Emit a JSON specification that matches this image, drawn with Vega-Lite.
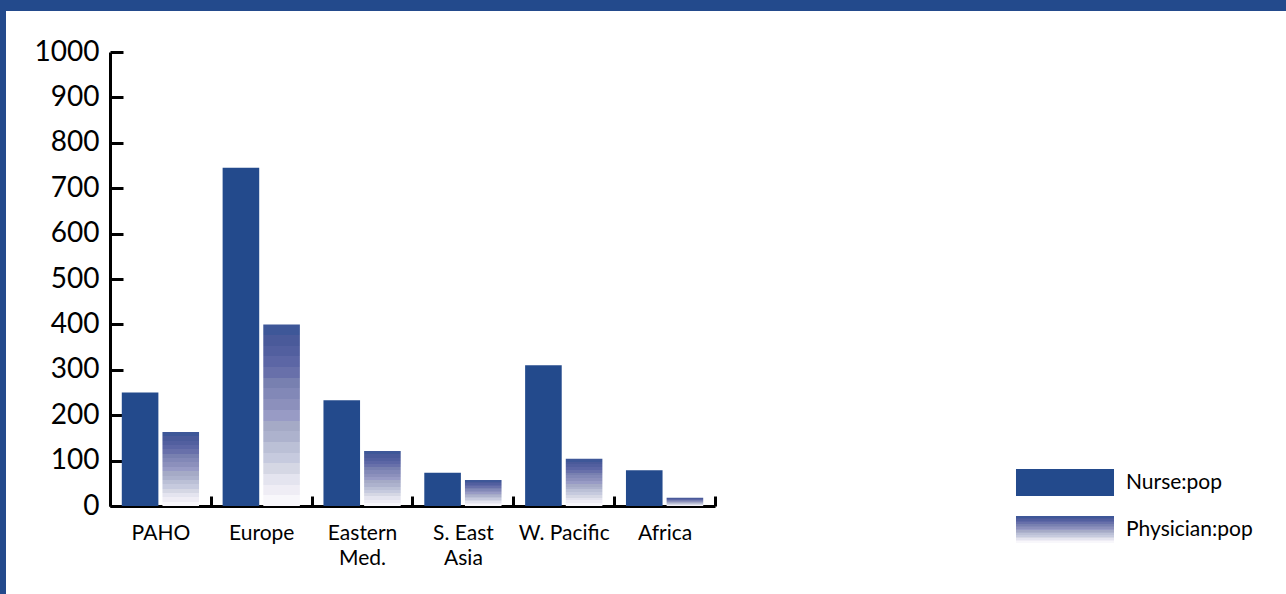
{
  "$schema": "https://vega.github.io/schema/vega-lite/v6.json",
  "autosize": {"type": "none"},
  "padding": {"left": 6, "top": 11, "right": 0, "bottom": 0},
  "width": 1280,
  "height": 583,
  "background": "#234a8c",
  "config": {
    "view": {"fill": "white", "stroke": null},
    "font": "Lato",
    "axis": {
      "domainColor": "black",
      "domainWidth": 3,
      "tickColor": "black",
      "tickWidth": 3,
      "grid": false,
      "labelColor": "black",
      "labelFont": "Lato",
      "title": null
    }
  },
  "data": {
    "values": [
      {"region": "PAHO", "measure": "Nurse:pop", "ratio": 250},
      {"region": "PAHO", "measure": "Physician:pop", "ratio": 163},
      {"region": "Europe", "measure": "Nurse:pop", "ratio": 745},
      {"region": "Europe", "measure": "Physician:pop", "ratio": 400},
      {"region": "Eastern Med.", "measure": "Nurse:pop", "ratio": 233},
      {"region": "Eastern Med.", "measure": "Physician:pop", "ratio": 121},
      {"region": "S. East Asia", "measure": "Nurse:pop", "ratio": 73},
      {"region": "S. East Asia", "measure": "Physician:pop", "ratio": 57},
      {"region": "W. Pacific", "measure": "Nurse:pop", "ratio": 310},
      {"region": "W. Pacific", "measure": "Physician:pop", "ratio": 104},
      {"region": "Africa", "measure": "Nurse:pop", "ratio": 79},
      {"region": "Africa", "measure": "Physician:pop", "ratio": 18}
    ]
  },
  "mark": {"type": "bar", "stroke": null},
  "encoding": {
    "x": {
      "field": "region",
      "type": "nominal",
      "sort": null,
      "scale": {"range": [104, 709], "paddingInner": 0, "paddingOuter": 0},
      "axis": {
        "orient": "bottom",
        "offset": -88,
        "tickBand": "extent",
        "tickSize": -10,
        "labelAngle": 0,
        "labelFontSize": 21,
        "labelPadding": 26,
        "labelLineHeight": 25,
        "labelExpr": "datum.label == 'Eastern Med.' ? ['Eastern', 'Med.'] : datum.label == 'S. East Asia' ? ['S. East', 'Asia'] : datum.label"
      }
    },
    "xOffset": {
      "field": "measure",
      "type": "nominal",
      "scale": {"paddingInner": 0.1, "paddingOuter": 0.29}
    },
    "y": {
      "field": "ratio",
      "type": "quantitative",
      "scale": {"domain": [0, 1000], "range": [495, 41], "nice": false},
      "axis": {
        "orient": "left",
        "offset": -104,
        "values": [0, 100, 200, 300, 400, 500, 600, 700, 800, 900, 1000],
        "format": "d",
        "tickSize": -13,
        "labelFontSize": 28,
        "labelPadding": 24
      }
    },
    "fill": {
      "field": "measure",
      "type": "nominal",
      "scale": {
        "domain": ["Nurse:pop", "Physician:pop"],
        "range": [
          "#234a8c",
          {"expr": "{gradient: 'linear', x1: 0, y1: 0, x2: 0, y2: 1, stops: [{offset: 0, color: '#3e5798'}, {offset: 0.0588, color: '#3e5798'}, {offset: 0.0588, color: '#4a5a9a'}, {offset: 0.1176, color: '#4a5a9a'}, {offset: 0.1176, color: '#525f9f'}, {offset: 0.1765, color: '#525f9f'}, {offset: 0.1765, color: '#5c66a5'}, {offset: 0.2353, color: '#5c66a5'}, {offset: 0.2353, color: '#6870aa'}, {offset: 0.2941, color: '#6870aa'}, {offset: 0.2941, color: '#7880b0'}, {offset: 0.3529, color: '#7880b0'}, {offset: 0.3529, color: '#8288b7'}, {offset: 0.4118, color: '#8288b7'}, {offset: 0.4118, color: '#8c90bc'}, {offset: 0.4706, color: '#8c90bc'}, {offset: 0.4706, color: '#989bc5'}, {offset: 0.5294, color: '#989bc5'}, {offset: 0.5294, color: '#a5aac6'}, {offset: 0.5882, color: '#a5aac6'}, {offset: 0.5882, color: '#adb2cd'}, {offset: 0.6471, color: '#adb2cd'}, {offset: 0.6471, color: '#bbc0d6'}, {offset: 0.7059, color: '#bbc0d6'}, {offset: 0.7059, color: '#c6cade'}, {offset: 0.7647, color: '#c6cade'}, {offset: 0.7647, color: '#d5d7e4'}, {offset: 0.8235, color: '#d5d7e4'}, {offset: 0.8235, color: '#e4e4ef'}, {offset: 0.8824, color: '#e4e4ef'}, {offset: 0.8824, color: '#efedf5'}, {offset: 0.9412, color: '#efedf5'}, {offset: 0.9412, color: '#f8f7fb'}, {offset: 1, color: '#f8f7fb'}]}"}
        ]
      },
      "legend": {
        "title": null,
        "orient": "none",
        "legendX": 1045.5,
        "legendY": 458,
        "symbolType": "M-3.63,-1L3.63,-1L3.63,1L-3.63,1Z",
        "symbolSize": 729,
        "symbolStrokeWidth": 0,
        "symbolOpacity": 1,
        "labelFont": "Lato",
        "labelFontSize": 21,
        "labelColor": "black",
        "labelOffset": 47.5,
        "rowPadding": 20
      }
    }
  }
}
